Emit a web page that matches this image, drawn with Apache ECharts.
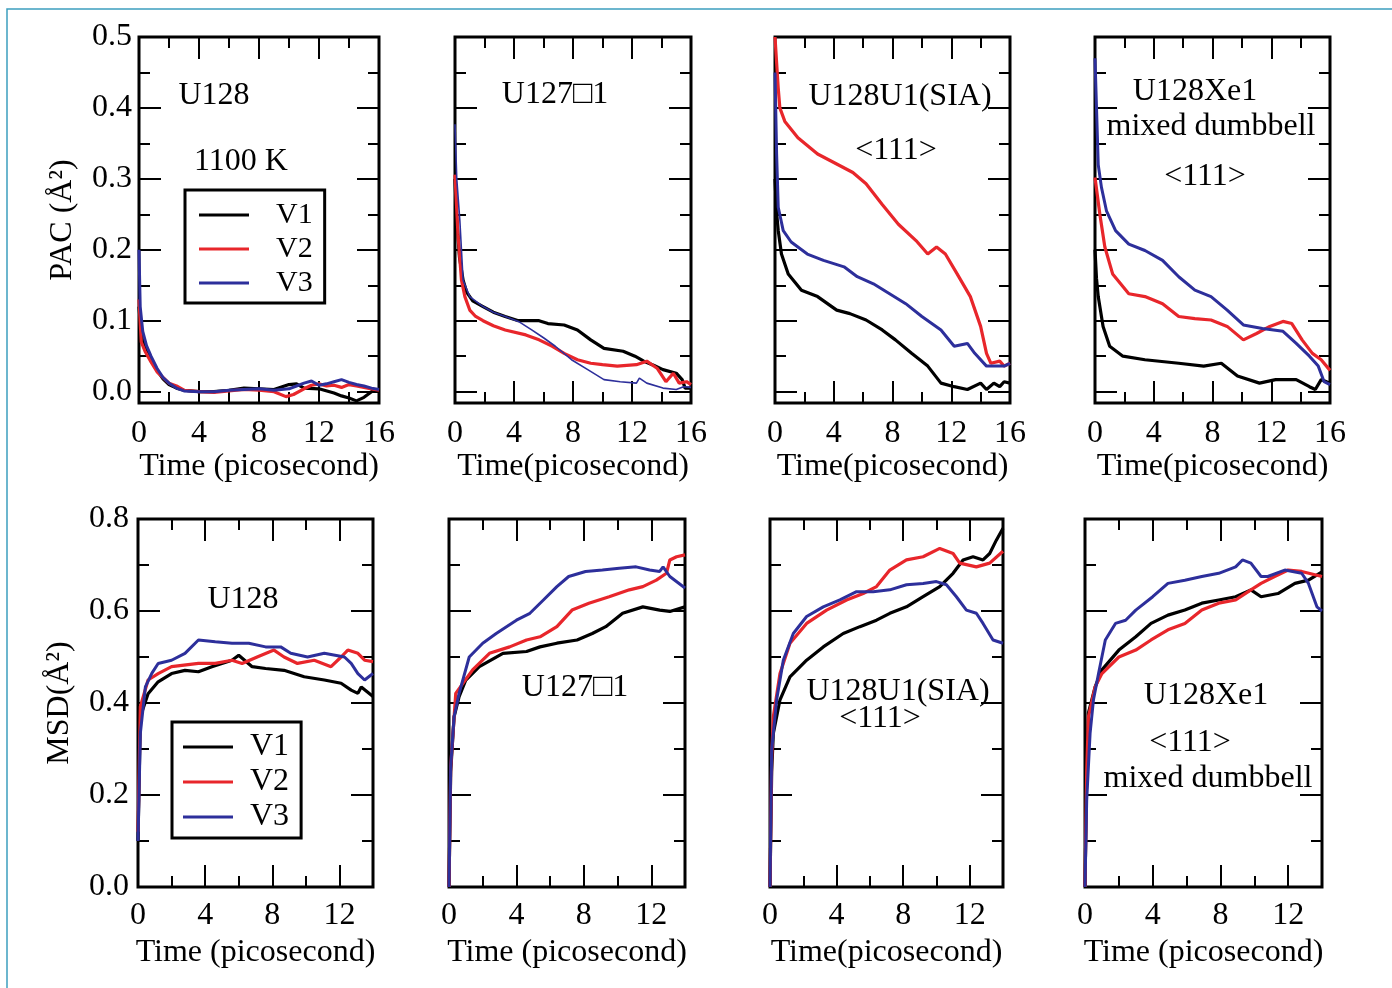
<!DOCTYPE html>
<html><head><meta charset="utf-8">
<script src="https://cdn.jsdelivr.net/npm/echarts@6/dist/echarts.min.js"></script>
<style>html,body{margin:0;padding:0;background:#fff}#c{width:1392px;height:988px}</style>
</head><body><div id="c"></div>
<script>
// ---------------- DATA ----------------
const seriesNames = ['V1', 'V2', 'V3'];
const pacMajorTicks = [0, 0.1, 0.2, 0.3, 0.4, 0.5];
const pacMinorTicks = [0.05, 0.15, 0.25, 0.35, 0.45];
const pacRange = [-0.016, 0.5];
const msdRange = [0, 0.8];
const pacTimeRange = [0, 16];
const msdTimeRange = [0, 14];
const pacTimeLabels = [0, 4, 8, 12, 16];
const msdTimeLabels = [0, 4, 8, 12];

// PAC, U128
const pacU128V1 = [[0,0.12],[0.15,0.08],[0.4,0.062],[0.8,0.045],[1.2,0.03],[1.6,0.018],[2,0.01],[2.5,0.005],[3,0.002],[4,0.0],[5,0.0],[6,0.002],[7,0.005],[8,0.004],[9,0.003],[10,0.01],[10.5,0.011],[11,0.005],[12,0.004],[13,-0.002],[13.5,-0.006],[14,-0.009],[14.5,-0.013],[15,-0.008],[15.5,0.0],[16,0.003]];
const pacU128V2 = [[0,0.13],[0.15,0.07],[0.4,0.057],[0.8,0.042],[1.2,0.028],[1.6,0.02],[2,0.012],[2.5,0.008],[3,0.002],[4,0.0],[5,-0.001],[6,0.001],[7,0.003],[8,0.002],[9,0.0],[9.8,-0.007],[10.3,-0.004],[11,0.004],[11.5,0.009],[12,0.011],[12.5,0.008],[13,0.009],[13.5,0.006],[14,0.01],[14.5,0.008],[15,0.006],[15.5,0.004],[16,0.002]];
const pacU128V3 = [[0,0.2],[0.08,0.12],[0.25,0.085],[0.5,0.065],[0.8,0.05],[1.2,0.033],[1.6,0.02],[2,0.012],[2.5,0.005],[3,0.001],[4,0.0],[5,0.0],[6,0.002],[7,0.003],[8,0.004],[9,0.002],[10,0.004],[10.5,0.008],[11,0.012],[11.5,0.015],[12,0.009],[12.5,0.011],[13,0.014],[13.5,0.017],[14,0.013],[14.5,0.01],[15,0.008],[15.5,0.005],[16,0.003]];
// PAC, U127 vacancy
const pacU127V1 = [[0,0.3],[0.1,0.25],[0.3,0.19],[0.55,0.157],[0.8,0.14],[1.2,0.128],[1.9,0.12],[2.6,0.112],[3.4,0.106],[4.3,0.1],[5,0.1],[5.7,0.1],[6.3,0.096],[7.4,0.094],[8.3,0.087],[9.2,0.073],[10.1,0.061],[11.4,0.057],[12.2,0.05],[12.8,0.043],[13.5,0.037],[14.1,0.031],[15,0.026],[15.4,0.017],[15.6,0.005],[16,0.005]];
const pacU127V2 = [[0,0.306],[0.2,0.222],[0.44,0.157],[0.67,0.134],[1,0.115],[1.4,0.106],[1.9,0.1],[2.6,0.093],[3.4,0.087],[4.8,0.08],[5.7,0.073],[6.6,0.064],[7.4,0.054],[8.3,0.045],[9.2,0.04],[10,0.038],[11,0.036],[12.3,0.038],[13,0.043],[13.7,0.033],[14.3,0.014],[14.8,0.026],[15.2,0.012],[15.7,0.014],[16,0.01]];
const pacU127V3 = [[0,0.377],[0.12,0.3],[0.33,0.241],[0.55,0.157],[1,0.134],[1.9,0.12],[2.6,0.112],[3.4,0.106],[4.3,0.099],[5.2,0.087],[6,0.076],[6.8,0.064],[7.9,0.045],[9,0.031],[10.1,0.017],[11.2,0.014],[12.3,0.012],[12.5,0.019],[13,0.012],[14.1,0.005],[15,0.003],[15.5,0.007],[16,0.006]];
// PAC, U128U1 (SIA)
const pacSiaV1 = [[0,0.3],[0.1,0.255],[0.22,0.227],[0.44,0.194],[0.9,0.166],[1.8,0.143],[2.9,0.134],[4.2,0.115],[5.1,0.11],[6.2,0.101],[7.3,0.087],[8.2,0.073],[9.3,0.054],[10.4,0.036],[11.3,0.012],[12.2,0.007],[13.1,0.003],[14,0.012],[14.4,0.003],[14.9,0.012],[15.3,0.007],[15.6,0.014],[16,0.012]];
const pacSiaV2 = [[0,0.5],[0.22,0.428],[0.33,0.4],[0.67,0.381],[1.56,0.358],[2.9,0.335],[4.2,0.321],[5.3,0.309],[6.2,0.293],[7.3,0.264],[8.4,0.236],[9.6,0.213],[10.4,0.194],[11,0.204],[11.6,0.194],[12.4,0.166],[13.3,0.134],[14,0.092],[14.4,0.054],[14.7,0.04],[15.3,0.043],[15.6,0.036],[16,0.04]];
const pacSiaV3 = [[0,0.45],[0.11,0.335],[0.22,0.26],[0.56,0.227],[1.1,0.211],[2.2,0.194],[3.3,0.185],[4.7,0.176],[5.6,0.162],[6.7,0.152],[7.8,0.138],[8.9,0.124],[10,0.106],[11.3,0.087],[12.2,0.064],[13.1,0.068],[13.6,0.054],[14.4,0.036],[15.6,0.036],[16,0.04]];
// PAC, U128Xe1
const pacXeV1 = [[0,0.2],[0.1,0.16],[0.22,0.134],[0.55,0.092],[1,0.064],[1.9,0.05],[3.4,0.045],[5.7,0.04],[7.4,0.036],[8.6,0.04],[9.7,0.022],[11.2,0.012],[12.3,0.017],[13.7,0.017],[14.6,0.007],[15,0.003],[15.4,0.017],[16,0.012]];
const pacXeV2 = [[0,0.302],[0.33,0.25],[0.67,0.204],[1.2,0.166],[2.3,0.138],[3.4,0.134],[4.6,0.124],[5.7,0.106],[6.8,0.103],[7.9,0.101],[9,0.092],[10.1,0.073],[11,0.082],[11.9,0.092],[12.8,0.099],[13.4,0.096],[14.1,0.073],[14.8,0.054],[15.4,0.045],[16,0.03]];
const pacXeV3 = [[0,0.47],[0.22,0.32],[0.44,0.288],[0.78,0.255],[1.4,0.227],[2.3,0.208],[3.4,0.199],[4.6,0.185],[5.7,0.162],[6.8,0.143],[7.9,0.134],[9,0.115],[10.1,0.094],[11.4,0.089],[12.8,0.085],[13.7,0.068],[14.6,0.05],[15.2,0.036],[15.6,0.014],[16,0.01]];
// MSD, U128
const msdU128V1 = [[0,0.1],[0.14,0.37],[0.6,0.42],[1.2,0.446],[2,0.464],[2.8,0.471],[3.6,0.468],[4.4,0.479],[5.6,0.493],[6,0.504],[6.8,0.479],[7.6,0.475],[8.7,0.471],[9.9,0.457],[11.1,0.45],[12.1,0.443],[12.7,0.428],[13.1,0.421],[13.3,0.435],[14,0.414]];
const msdU128V2 = [[0,0.12],[0.14,0.392],[0.6,0.45],[1.2,0.464],[2,0.479],[3.6,0.486],[4.6,0.486],[5.6,0.493],[6.2,0.486],[7.1,0.5],[8.1,0.515],[8.7,0.5],[9.5,0.486],[10.5,0.493],[11.5,0.479],[12.1,0.5],[12.5,0.515],[13.1,0.508],[13.5,0.493],[14,0.49]];
const msdU128V3 = [[0,0.1],[0.14,0.334],[0.44,0.435],[0.83,0.465],[1.2,0.486],[2,0.493],[2.8,0.508],[3.6,0.537],[4.6,0.533],[5.6,0.53],[6.6,0.53],[7.6,0.522],[8.5,0.522],[9.1,0.508],[10.1,0.5],[11.1,0.508],[12.3,0.5],[12.7,0.486],[13.1,0.464],[13.5,0.45],[14,0.464]];
// MSD, U127 vacancy
const msdU127V1 = [[0,0.0],[0.1,0.25],[0.3,0.37],[0.6,0.414],[1,0.45],[1.8,0.479],[3.2,0.508],[4.6,0.512],[5.4,0.522],[6.4,0.53],[7.6,0.537],[8.5,0.551],[9.3,0.566],[10.3,0.595],[11.5,0.609],[12.5,0.602],[13.1,0.599],[14,0.609]];
const msdU127V2 = [[0,0.0],[0.1,0.26],[0.4,0.421],[1.4,0.472],[2.4,0.508],[3.6,0.522],[4.6,0.537],[5.4,0.544],[6.4,0.566],[7.3,0.602],[8.3,0.617],[9.5,0.631],[10.7,0.646],[11.5,0.653],[12.3,0.667],[12.9,0.682],[13.1,0.711],[13.5,0.718],[14,0.722]];
const msdU127V3 = [[0,0.0],[0.1,0.262],[0.3,0.37],[0.6,0.421],[1.2,0.5],[2,0.53],[2.8,0.551],[4,0.58],[4.8,0.595],[5.6,0.624],[6.4,0.653],[7.1,0.675],[8.1,0.686],[9.1,0.689],[10.1,0.693],[11.1,0.696],[11.9,0.689],[12.5,0.686],[12.7,0.696],[13.1,0.675],[14,0.65]];
// MSD, U128U1 (SIA)
const msdSiaV1 = [[0,0.0],[0.1,0.25],[0.2,0.334],[0.6,0.407],[1.2,0.457],[2.2,0.493],[3.2,0.522],[4.4,0.551],[5.4,0.566],[6.4,0.58],[7.2,0.595],[8.2,0.609],[9.2,0.631],[10.2,0.653],[11,0.682],[11.6,0.711],[12.2,0.718],[12.8,0.711],[13.2,0.725],[13.6,0.754],[14,0.78]];
const msdSiaV2 = [[0,0.0],[0.1,0.28],[0.2,0.37],[0.6,0.464],[1.2,0.53],[2.2,0.573],[3.4,0.602],[4.6,0.624],[5.6,0.638],[6.4,0.653],[7.2,0.689],[8.2,0.711],[9.2,0.718],[10.2,0.736],[11,0.725],[11.4,0.704],[12.4,0.696],[13.2,0.704],[14,0.73]];
const msdSiaV3 = [[0,0.0],[0.1,0.298],[0.4,0.407],[0.8,0.493],[1.4,0.551],[2.2,0.588],[3.2,0.609],[4.2,0.624],[5.2,0.642],[6.2,0.642],[7.2,0.646],[8.2,0.657],[9.2,0.66],[10,0.664],[10.6,0.657],[11.2,0.631],[11.8,0.602],[12.4,0.595],[12.8,0.573],[13.4,0.537],[14,0.53]];
// MSD, U128Xe1
const msdXeV1 = [[0,0.0],[0.1,0.25],[0.2,0.378],[0.6,0.435],[1,0.472],[2,0.515],[3,0.544],[3.9,0.573],[4.9,0.591],[5.9,0.602],[6.9,0.617],[7.9,0.624],[8.9,0.631],[9.8,0.646],[10.4,0.631],[11.4,0.638],[12.4,0.66],[13.2,0.667],[14,0.685]];
const msdXeV2 = [[0,0.0],[0.1,0.25],[0.2,0.37],[0.6,0.435],[1,0.464],[2,0.5],[3,0.515],[3.9,0.537],[4.9,0.559],[5.9,0.573],[6.9,0.602],[7.9,0.617],[8.9,0.624],[9.8,0.646],[10.4,0.66],[11.2,0.675],[12,0.689],[12.8,0.686],[14,0.675]];
const msdXeV3 = [[0,0.0],[0.1,0.189],[0.3,0.334],[0.5,0.407],[0.8,0.464],[1.2,0.537],[1.8,0.573],[2.4,0.58],[3,0.602],[4,0.631],[4.9,0.66],[5.9,0.667],[6.9,0.675],[7.9,0.682],[8.9,0.696],[9.3,0.711],[9.8,0.704],[10.4,0.675],[10.8,0.675],[11.8,0.689],[12.8,0.682],[13.2,0.66],[13.7,0.609],[14,0.6]];

// ---------------- LAYOUT / STYLE ----------------
const FONT = '"Liberation Serif", "Times New Roman", serif';
const FS = 32;
const COLORS = ['#000000', '#e8262b', '#2d2f9b'];

const panels = [
  {row:0, left:139, width:240, data:[pacU128V1,pacU128V2,pacU128V3], xname:'Time (picosecond)', yname:'PAC (Å²)', blueW:3},
  {row:0, left:455, width:236, data:[pacU127V1,pacU127V2,pacU127V3], xname:'Time(picosecond)', blueW:1.6},
  {row:0, left:775, width:235, data:[pacSiaV1,pacSiaV2,pacSiaV3], xname:'Time(picosecond)', blueW:3},
  {row:0, left:1095, width:235, data:[pacXeV1,pacXeV2,pacXeV3], xname:'Time(picosecond)', blueW:3},
  {row:1, left:138, width:235, data:[msdU128V1,msdU128V2,msdU128V3], xname:'Time (picosecond)', yname:'MSD(Å²)', blueW:3},
  {row:1, left:449, width:236, data:[msdU127V1,msdU127V2,msdU127V3], xname:'Time (picosecond)', blueW:3},
  {row:1, left:770, width:233, data:[msdSiaV1,msdSiaV2,msdSiaV3], xname:'Time(picosecond)', blueW:3},
  {row:1, left:1085, width:237, data:[msdXeV1,msdXeV2,msdXeV3], xname:'Time (picosecond)', blueW:3}
];

const annotations = [
  ['U128', 214, 96], ['1100 K', 241, 162],
  ['U127\u25A11', 555, 95],
  ['U128U1(SIA)', 900, 97], ['<111>', 896, 151],
  ['U128Xe1', 1195, 92], ['mixed dumbbell', 1211, 127], ['<111>', 1205, 177],
  ['U128', 243, 600],
  ['U127\u25A11', 575, 688],
  ['U128U1(SIA)', 898, 692], ['<111>', 880, 719],
  ['U128Xe1', 1206, 696], ['<111>', 1190, 743], ['mixed dumbbell', 1208, 779]
];

const tickStyle = {color:'#000', width:2};
const labelStyle = {fontFamily:FONT, fontSize:FS, color:'#000'};
const grids = [], xAxes = [], yAxes = [], series = [];

panels.forEach((p, i) => {
  const top = p.row === 0;
  grids.push({left:p.left, top: top ? 37 : 519, width:p.width, height: top ? 366 : 368,
    show:true, borderColor:'#000', borderWidth:3, backgroundColor:'transparent', containLabel:false, outerBoundsMode:'none'});
  const xr = top ? pacTimeRange : msdTimeRange;
  const xBase = {gridIndex:i, type:'value', min:xr[0], max:xr[1], interval:4,
    splitLine:{show:false}, axisLine:{show:false, onZero:false},
    axisTick:{show:true, inside:true, length:22, lineStyle:tickStyle},
    minorTick:{show:true, splitNumber:2, length:11, lineStyle:tickStyle}};
  const xi = xAxes.length;
  xAxes.push(Object.assign({}, xBase, {position:'bottom',
    axisLabel:Object.assign({show:true, margin: top ? 15 : 13, customValues: top ? pacTimeLabels : msdTimeLabels}, labelStyle),
    name:p.xname, nameLocation:'middle', nameGap: top ? 46 : 50, nameTextStyle:labelStyle}));
  xAxes.push(Object.assign({}, xBase, {position:'top', axisLabel:{show:false}}));

  const yi = yAxes.length;
  const showLab = !!p.yname;
  if (top) {
    const yBase = {gridIndex:i, type:'value', min:pacRange[0], max:pacRange[1],
      splitLine:{show:false}, axisLine:{show:false, onZero:false}};
    ['left','right'].forEach(pos => {
      const isMain = pos === 'left';
      yAxes.push(Object.assign({}, yBase, {position:pos,
        axisTick:{show:true, inside:true, length:22, lineStyle:tickStyle, customValues:pacMajorTicks},
        axisLabel:Object.assign({show: isMain && showLab, margin:7, customValues:pacMajorTicks,
          formatter: v => v.toFixed(1)}, labelStyle),
        name: isMain && showLab ? p.yname : '', nameLocation:'middle', nameGap:60, nameTextStyle:labelStyle}));
      yAxes.push(Object.assign({}, yBase, {position:pos,
        axisTick:{show:true, inside:true, length:11, lineStyle:tickStyle, customValues:pacMinorTicks},
        axisLabel:{show:false}}));
    });
  } else {
    const yBase = {gridIndex:i, type:'value', min:msdRange[0], max:msdRange[1], interval:0.2,
      splitLine:{show:false}, axisLine:{show:false, onZero:false},
      axisTick:{show:true, inside:true, length:22, lineStyle:tickStyle},
      minorTick:{show:true, splitNumber:2, length:11, lineStyle:tickStyle}};
    yAxes.push(Object.assign({}, yBase, {position:'left',
      axisLabel:Object.assign({show:showLab, margin:9, formatter: v => v.toFixed(1)}, labelStyle),
      name: showLab ? p.yname : '', nameLocation:'middle', nameGap:62, nameTextStyle:labelStyle}));
    yAxes.push(Object.assign({}, yBase, {position:'right', axisLabel:{show:false}}));
  }

  p.data.forEach((d, k) => {
    series.push({type:'line', name:seriesNames[k], xAxisIndex:xi, yAxisIndex:yi, data:d,
      showSymbol:false, symbol:'none', clip:true, z:2 + k,
      lineStyle:{color:COLORS[k], width: k === 2 ? p.blueW : 3.2},
      itemStyle:{color:COLORS[k]}});
  });
});

const legendBase = {data:seriesNames, orient:'vertical', icon:'rect', itemWidth:50, itemHeight:3,
  borderColor:'#000', borderWidth:3, backgroundColor:'#fff', selectedMode:false};

const graphics = annotations.map(a => ({type:'text', z:100, style:{text:a[0], x:a[1], y:a[2],
  align:'center', verticalAlign:'middle', font: FS + 'px ' + FONT, fill:'#000'}}));
graphics.push({type:'polyline', z:100, shape:{points:[[7,1000],[7,9],[1400,9]]},
  style:{stroke:'#3c9fbf', lineWidth:1.5, fill:null}});

const chart = echarts.init(document.getElementById('c'), null, {renderer:'canvas'});
chart.setOption({
  animation:false,
  backgroundColor:'#ffffff',
  grid:grids, xAxis:xAxes, yAxis:yAxes, series:series,
  legend:[
    Object.assign({}, legendBase, {left:185, top:190, padding:[10,12,5,14], itemGap:4,
      textStyle:Object.assign({padding:[0,0,0,22]}, labelStyle, {fontSize:30})}),
    Object.assign({}, legendBase, {left:172, top:722, padding:[9,12,5,11], itemGap:3,
      textStyle:Object.assign({padding:[0,0,0,12]}, labelStyle)})
  ],
  graphic:graphics
});
</script>
</body></html>
